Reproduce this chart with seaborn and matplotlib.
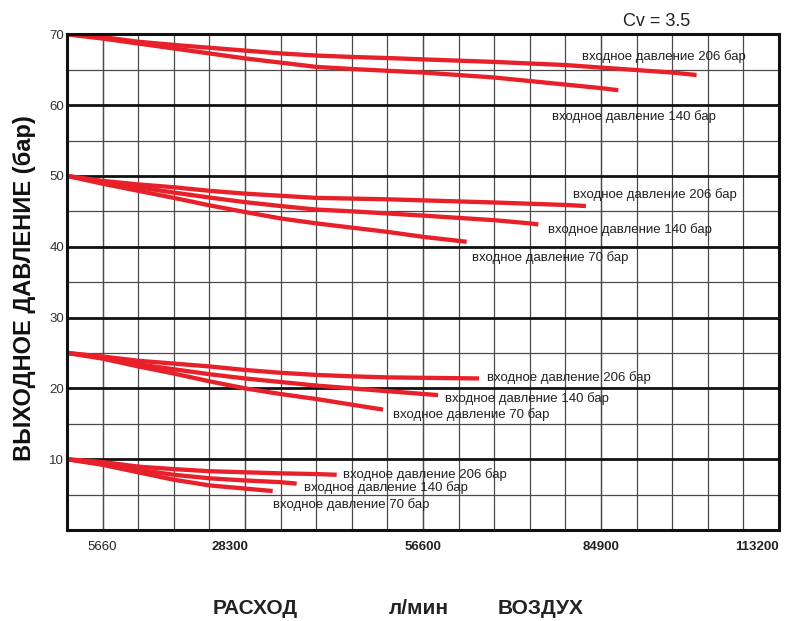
import pandas as pd
import seaborn as sns
from matplotlib import pyplot as plt
from matplotlib import transforms
from matplotlib.ticker import MultipleLocator

sns.set_style('white')
plt.rcParams['font.family'] = ['Liberation Sans', 'DejaVu Sans']

# flow, l/min  /  outlet pressure, bar  (outlet setting -> inlet pressure curves)
out70_in206_x = [0, 5660, 11320, 16980, 22640, 28300, 33960, 39620, 45280, 50940,
                 56600, 67920, 79240, 84900, 90560, 96220, 100100]
out70_in206_y = [70, 69.6, 68.95, 68.5, 68.1, 67.7, 67.3, 67.0, 66.8, 66.65,
                 66.46, 66.1, 65.66, 65.3, 64.95, 64.6, 64.25]
out70_in140_x = [0, 5660, 11320, 16980, 22640, 28300, 33960, 39620, 45280, 56600,
                 67920, 79240, 84900, 87650]
out70_in140_y = [70, 69.4, 68.7, 68.0, 67.3, 66.6, 66.0, 65.4, 65.1, 64.6,
                 63.9, 62.9, 62.4, 62.1]

out50_in206_x = [0, 5660, 11320, 16980, 22640, 28300, 33960, 39620, 45280, 50940,
                 67920, 79240, 82500]
out50_in206_y = [50, 49.3, 48.8, 48.4, 47.9, 47.5, 47.2, 46.9, 46.8, 46.7,
                 46.25, 45.9, 45.75]
out50_in140_x = [0, 5660, 11320, 16980, 22640, 28300, 33960, 39620, 45280, 56600,
                 67920, 73580, 74940]
out50_in140_y = [50, 49.15, 48.4, 47.65, 46.95, 46.3, 45.75, 45.25, 45.0, 44.4,
                 43.75, 43.3, 43.15]
out50_in70_x = [0, 5660, 11320, 16980, 22640, 28300, 33960, 39620, 45280, 50940,
                56600, 63550]
out50_in70_y = [50, 48.9, 47.9, 46.9, 45.85, 44.9, 44.0, 43.3, 42.7, 42.1,
                41.4, 40.7]

out25_in206_x = [0, 5660, 11320, 16980, 22640, 28300, 33960, 39620, 45280, 50940, 65500]
out25_in206_y = [25, 24.5, 23.9, 23.5, 23.1, 22.6, 22.2, 21.9, 21.7, 21.55, 21.4]
out25_in140_x = [0, 5660, 11320, 16980, 22640, 28300, 33960, 39620, 45280, 50940, 59000]
out25_in140_y = [25, 24.4, 23.4, 22.7, 22.0, 21.4, 20.9, 20.4, 20.0, 19.6, 19.05]
out25_in70_x = [0, 5660, 11320, 16980, 22640, 28300, 33960, 39620, 45280, 50250]
out25_in70_y = [25, 24.2, 23.1, 22.1, 21.0, 20.0, 19.2, 18.5, 17.7, 17.0]

out10_in206_x = [0, 5660, 11320, 16980, 22640, 28300, 33960, 39620, 42880]
out10_in206_y = [10, 9.6, 8.95, 8.6, 8.3, 8.15, 8.0, 7.9, 7.8]
out10_in140_x = [0, 5660, 11320, 16980, 22640, 28300, 33960, 36520]
out10_in140_y = [10, 9.3, 8.5, 7.8, 7.3, 7.0, 6.75, 6.55]
out10_in70_x = [0, 5660, 11320, 16980, 22640, 28300, 32700]
out10_in70_y = [10, 9.2, 8.15, 7.1, 6.3, 5.85, 5.5]

curves = [
    (out70_in206_x, out70_in206_y), (out70_in140_x, out70_in140_y),
    (out50_in206_x, out50_in206_y), (out50_in140_x, out50_in140_y),
    (out50_in70_x, out50_in70_y),
    (out25_in206_x, out25_in206_y), (out25_in140_x, out25_in140_y),
    (out25_in70_x, out25_in70_y),
    (out10_in206_x, out10_in206_y), (out10_in140_x, out10_in140_y),
    (out10_in70_x, out10_in70_y),
]

label_206 = 'входное давление 206 бар'
label_140 = 'входное давление 140 бар'
label_70 = 'входное давление 70 бар'
curve_labels = [
    (label_206, 81880, 66.9), (label_140, 77100, 58.4),
    (label_206, 80450, 47.4), (label_140, 76480, 42.5), (label_70, 64400, 38.5),
    (label_206, 66800, 21.6), (label_140, 60100, 18.5), (label_70, 51800, 16.3),
    (label_206, 43900, 7.9), (label_140, 37700, 5.95), (label_70, 32700, 3.6),
]

x_grid_step = 5660
x_ticks = [5660, 28300, 56600, 84900, 113200]
x_tick_labels = ['5660', '28300', '56600', '84900', '113200']
y_ticks = [10, 20, 30, 40, 50, 60, 70]

fig = plt.figure(figsize=(7.85, 6.21), dpi=100)
ax = fig.add_axes([67 / 785, 1 - 530 / 621, 712 / 785, (530 - 34.3) / 621])

ax.set_xlim(0, 113200)
ax.set_ylim(0, 70)
ax.set_xticks(x_ticks)
ax.set_xticklabels(x_tick_labels)
ax.xaxis.set_minor_locator(MultipleLocator(x_grid_step))
ax.xaxis.remove_overlapping_locs = False
ax.set_yticks(y_ticks)
ax.yaxis.set_minor_locator(MultipleLocator(5))
ax.grid(True, axis='x', which='both', color='#4a4a4a', lw=0.9)
ax.grid(True, axis='y', which='major', color='#111111', lw=2.0)
ax.grid(True, axis='y', which='minor', color='#4a4a4a', lw=0.9)
ax.set_axisbelow(True)

for cx, cy in curves:
    df = pd.DataFrame({'flow': cx, 'pressure': cy})
    sns.lineplot(data=df, x='flow', y='pressure', ax=ax, color='#e8202a',
                 lw=3.1, sort=False, estimator=None, solid_capstyle='butt',
                 solid_joinstyle='round')

for text, tx, ty in curve_labels:
    ax.text(tx, ty, text, fontsize=9.5, color='#222222', ha='left', va='center')

ax.tick_params(axis='x', which='both', length=0, pad=8, labelsize=9.5,
               labelcolor='#222222')
ax.tick_params(axis='y', which='both', length=0, pad=2, labelsize=9.5,
               labelcolor='#333333')
xl = ax.get_xticklabels()
for lab in xl[1:]:
    lab.set_fontweight('bold')
# nudge the crowded labels like the original sheet
xl[1].set_transform(xl[1].get_transform() +
                    transforms.ScaledTranslation(-15 / 100, 0, fig.dpi_scale_trans))
xl[-1].set_ha('right')
ax.set_xlabel('')
ax.set_ylabel('')

for side in ['left', 'right', 'top', 'bottom']:
    ax.spines[side].set_visible(True)
    ax.spines[side].set_color('#111111')
    ax.spines[side].set_linewidth(2.2)

fig.text(623 / 785, 1 - 22 / 621, 'Cv = 3.5', fontsize=13, color='#222222',
         ha='left', va='center')
fig.text(25 / 785, 1 - 288.5 / 621, 'ВЫХОДНОЕ ДАВЛЕНИЕ (бар)', rotation=90,
         fontsize=17, fontweight='bold', color='#111111', ha='center',
         va='center')

for word, wx in [('РАСХОД', 255), ('л/мин', 419), ('ВОЗДУХ', 541)]:
    fig.text(wx / 785, 1 - 609 / 621, word, fontsize=15, fontweight='bold',
             color='#222222', ha='center', va='center')

plt.savefig('out.png', dpi=100)
plt.close()
